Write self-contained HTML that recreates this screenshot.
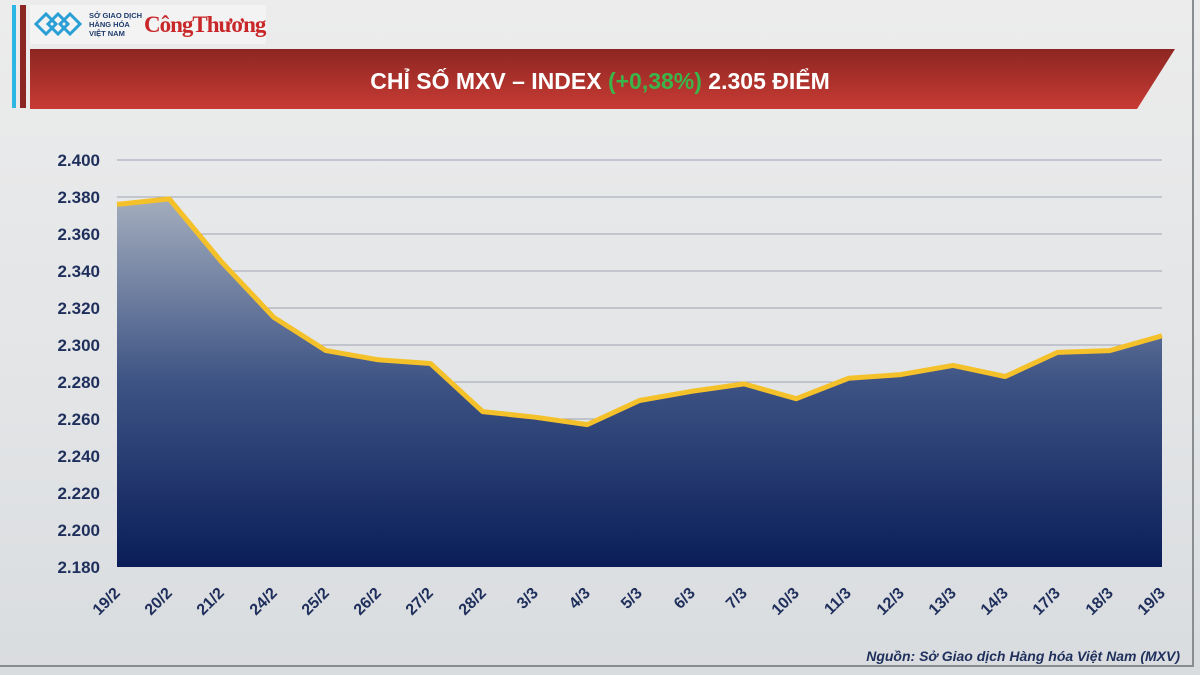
<!DOCTYPE html>
<html><head><meta charset="utf-8"><style>
html,body{margin:0;padding:0;width:1200px;height:675px;overflow:hidden;background:#e4e6e8;font-family:"Liberation Sans",sans-serif}
</style></head><body>
<svg width="1200" height="675" viewBox="0 0 1200 675" xmlns="http://www.w3.org/2000/svg">
<defs>
<linearGradient id="bg" x1="0" y1="0" x2="0" y2="1"><stop offset="0" stop-color="#ececec"/><stop offset="0.6" stop-color="#e2e4e6"/><stop offset="1" stop-color="#d9dcdf"/></linearGradient>
<linearGradient id="ban" x1="0" y1="0" x2="0" y2="1"><stop offset="0" stop-color="#8c2622"/><stop offset="1" stop-color="#c83b34"/></linearGradient>
<linearGradient id="area" x1="0" y1="0" x2="0" y2="1"><stop offset="0" stop-color="#a3adbd"/><stop offset="0.5" stop-color="#3d5384"/><stop offset="1" stop-color="#0a1d58"/></linearGradient>
</defs>
<rect width="1200" height="675" fill="url(#bg)"/>
<line x1="1193" y1="0" x2="1193" y2="666" stroke="#8a8d90" stroke-width="2"/>
<line x1="0" y1="666" x2="1194" y2="666" stroke="#8a8d90" stroke-width="2"/>
<rect x="12" y="5" width="4" height="103" fill="#2bb6e3"/>
<rect x="20" y="5" width="6" height="103" fill="#8c2622"/>
<rect x="30" y="5" width="236" height="39" fill="#f3f3f3"/>
<g fill="none" stroke="#2a9fd6" stroke-width="3">
<path d="M36 24 L46 14 L56 24 L46 34 Z"/><path d="M48 24 L58 14 L68 24 L58 34 Z"/><path d="M60 24 L70 14 L80 24 L70 34 Z"/>
</g>
<text x="89" y="18" font-size="7.5" font-weight="bold" fill="#1f3c6e">SỞ GIAO DỊCH</text>
<text x="89" y="27" font-size="7.5" font-weight="bold" fill="#1f3c6e">HÀNG HÓA</text>
<text x="89" y="36" font-size="7.5" font-weight="bold" fill="#1f3c6e">VIỆT NAM</text>
<text x="144" y="32" font-size="23" font-family="Liberation Serif,serif" font-weight="bold" fill="#c8282a" letter-spacing="-1">CôngThương</text>
<path d="M30 49 L1175 49 L1137 109 L30 109 Z" fill="url(#ban)"/>
<text x="600" y="89" text-anchor="middle" font-size="23" font-weight="bold" fill="#fff">CHỈ SỐ MXV – INDEX <tspan fill="#3bb44a">(+0,38%)</tspan> 2.305 ĐIỂM</text>
<g stroke="#9ea3b3" stroke-width="1">
<line x1="117" y1="160" x2="1162" y2="160"/><line x1="117" y1="197" x2="1162" y2="197"/><line x1="117" y1="234" x2="1162" y2="234"/><line x1="117" y1="271" x2="1162" y2="271"/><line x1="117" y1="308" x2="1162" y2="308"/><line x1="117" y1="345" x2="1162" y2="345"/><line x1="117" y1="382" x2="1162" y2="382"/><line x1="117" y1="419" x2="1162" y2="419"/><line x1="117" y1="456" x2="1162" y2="456"/><line x1="117" y1="493" x2="1162" y2="493"/><line x1="117" y1="530" x2="1162" y2="530"/>
</g>
<path d="M117,204.4 L169.25,198.9 L221.5,261.8 L273.75,317.3 L326,350.6 L378.25,359.8 L430.5,363.5 L482.75,411.6 L535,417.2 L587.25,424.6 L639.5,400.5 L691.75,391.3 L744,383.9 L796.25,398.7 L848.5,378.3 L900.75,374.6 L953,365.4 L1005.25,376.5 L1057.5,352.4 L1109.75,350.6 L1162,335.8 L1162,567 L117,567 Z" fill="url(#area)"/>
<polyline points="117,204.4 169.25,198.9 221.5,261.8 273.75,317.3 326,350.6 378.25,359.8 430.5,363.5 482.75,411.6 535,417.2 587.25,424.6 639.5,400.5 691.75,391.3 744,383.9 796.25,398.7 848.5,378.3 900.75,374.6 953,365.4 1005.25,376.5 1057.5,352.4 1109.75,350.6 1162,335.8" fill="none" stroke="#f5c12a" stroke-width="5" stroke-linejoin="round"/>
<g font-size="17" font-weight="bold" fill="#1f2f5c" text-anchor="end">
<text x="100" y="166">2.400</text><text x="100" y="203">2.380</text><text x="100" y="240">2.360</text><text x="100" y="277">2.340</text><text x="100" y="314">2.320</text><text x="100" y="351">2.300</text><text x="100" y="388">2.280</text><text x="100" y="425">2.260</text><text x="100" y="462">2.240</text><text x="100" y="499">2.220</text><text x="100" y="536">2.200</text><text x="100" y="573">2.180</text>
</g>
<g font-size="16" font-weight="bold" fill="#1f2f5c" text-anchor="end">
<text transform="translate(121,594) rotate(-45)">19/2</text>
<text transform="translate(173,594) rotate(-45)">20/2</text>
<text transform="translate(225,594) rotate(-45)">21/2</text>
<text transform="translate(278,594) rotate(-45)">24/2</text>
<text transform="translate(330,594) rotate(-45)">25/2</text>
<text transform="translate(382,594) rotate(-45)">26/2</text>
<text transform="translate(434,594) rotate(-45)">27/2</text>
<text transform="translate(487,594) rotate(-45)">28/2</text>
<text transform="translate(539,594) rotate(-45)">3/3</text>
<text transform="translate(591,594) rotate(-45)">4/3</text>
<text transform="translate(643,594) rotate(-45)">5/3</text>
<text transform="translate(696,594) rotate(-45)">6/3</text>
<text transform="translate(748,594) rotate(-45)">7/3</text>
<text transform="translate(800,594) rotate(-45)">10/3</text>
<text transform="translate(852,594) rotate(-45)">11/3</text>
<text transform="translate(905,594) rotate(-45)">12/3</text>
<text transform="translate(957,594) rotate(-45)">13/3</text>
<text transform="translate(1009,594) rotate(-45)">14/3</text>
<text transform="translate(1061,594) rotate(-45)">17/3</text>
<text transform="translate(1114,594) rotate(-45)">18/3</text>
<text transform="translate(1166,594) rotate(-45)">19/3</text>
</g>
<text x="1180" y="661" text-anchor="end" font-size="14" font-style="italic" font-weight="bold" fill="#1f2f5c">Nguồn: Sở Giao dịch Hàng hóa Việt Nam (MXV)</text>
</svg>
</body></html>
